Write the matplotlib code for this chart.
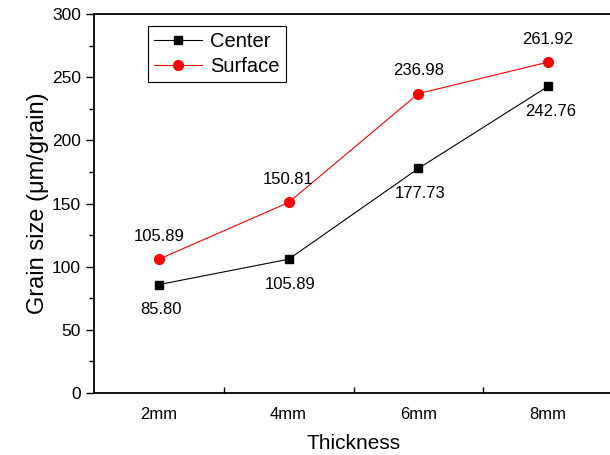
import numpy as np
import matplotlib.pyplot as plt
from matplotlib.ticker import MultipleLocator

plt.rcParams['font.family'] = ['Liberation Sans', 'DejaVu Sans']

thickness = ['2mm', '4mm', '6mm', '8mm']
center = [85.80, 105.89, 177.73, 242.76]
surface = [105.89, 150.81, 236.98, 261.92]

fig = plt.figure(figsize=(6.1, 4.55), dpi=100)
# right edge of the frame falls just outside the picture, as in the original
ax = fig.add_axes([94 / 610, 1 - 393 / 455, (613 - 94) / 610, (393 - 14) / 455])

x = np.arange(len(thickness))
ax.plot(x, center, color='black', lw=0.8, marker='s', ms=6, label='Center')
ax.plot(x, surface, color='red', lw=0.8, marker='o', ms=7, label='Surface')

for xi, v in zip(x, center):
    ax.annotate('%.2f' % v, (xi, v), xytext=(2, -25), textcoords='offset pixels',
                ha='center', va='center', fontsize=12)
for xi, v in zip(x, surface):
    ax.annotate('%.2f' % v, (xi, v), xytext=(0, 23), textcoords='offset pixels',
                ha='center', va='center', fontsize=12)

ax.set_xlim(-0.5, 3.5)
ax.set_ylim(0, 300)
ax.yaxis.set_major_locator(MultipleLocator(50))
ax.yaxis.set_minor_locator(MultipleLocator(25))
ax.tick_params(axis='y', which='major', direction='out', length=6, width=1, labelsize=12.5)
ax.tick_params(axis='y', which='minor', direction='out', length=3.5, width=1)

# category labels without ticks, small ticks between categories pointing inward
ax.set_xticks(x)
ax.set_xticklabels(thickness, fontsize=12)
ax.tick_params(axis='x', which='major', length=0, pad=10)
ax.set_xticks([0.5, 1.5, 2.5], minor=True)
ax.tick_params(axis='x', which='minor', direction='in', length=4, width=1)

for s in ax.spines.values():
    s.set_linewidth(1.3)

ax.set_xlabel('Thickness', fontsize=15, labelpad=9)
ax.set_ylabel('Grain size (μm/grain)', fontsize=17, labelpad=2)

leg = ax.legend(loc='upper left', bbox_to_anchor=(54 / 519, 1 - 12 / 379), fontsize=14.5,
                fancybox=False, edgecolor='black', framealpha=1, handlelength=2.4,
                borderpad=0.3, labelspacing=0.3, handletextpad=0.4, borderaxespad=0)
leg.get_frame().set_linewidth(0.8)

fig.savefig('out.png', dpi=100)
